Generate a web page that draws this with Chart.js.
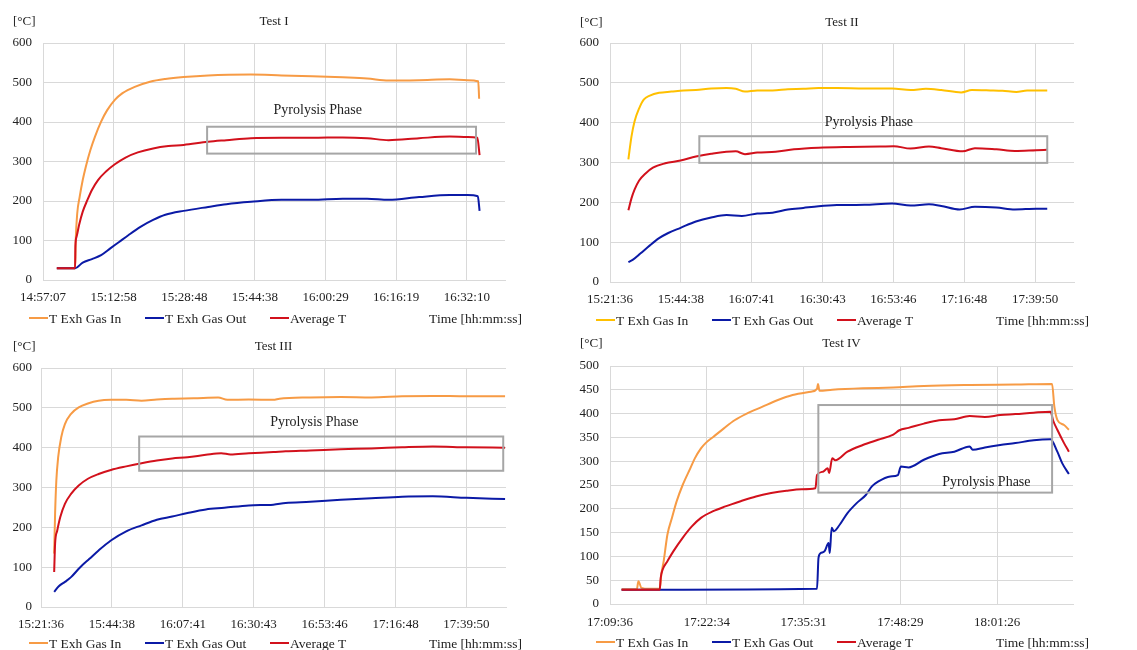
<!DOCTYPE html>
<html>
<head>
<meta charset="utf-8">
<script src="https://cdn.jsdelivr.net/npm/chart.js@4.4.1/dist/chart.umd.min.js"></script>
<style>
  html, body { margin: 0; padding: 0; background: #fff; }
  body { width: 1137px; height: 650px; position: relative; overflow: hidden; }
  canvas { position: absolute; }
</style>
</head>
<body>
<canvas id="test1" width="540" height="332" style="left:0;top:0"></canvas>
<canvas id="test2" width="544" height="332" style="left:567px;top:0"></canvas>
<canvas id="test3" width="542" height="325" style="left:0;top:325px"></canvas>
<canvas id="test4" width="542" height="325" style="left:567px;top:325px"></canvas>
<script>
// x values are minutes after the first tick label of each test

// Test I
const test1Ticks = ['14:57:07', '15:12:58', '15:28:48', '15:44:38', '16:00:29', '16:16:19', '16:32:10'];
const test1InT = [3.1, 7.2, 7.34, 7.68, 8.23, 8.91, 9.6, 10.63, 11.66, 13.03, 14.4, 16.11, 17.83, 20.57, 24.0, 27.43, 31.54, 37.03, 46.63, 53.49, 60.34, 67.2, 72.68, 77.49, 84.34, 91.2, 95.2, 97.6, 97.8];
const test1InV = [30, 30, 101, 169, 211, 253, 287, 329, 363, 401, 430, 456, 473, 489, 502, 509, 514, 518, 520, 518, 516, 513, 510, 505, 506, 508, 506, 503, 459];
const test1OutT = [3.1, 7.2, 8.91, 10.97, 13.03, 15.09, 17.14, 19.2, 21.94, 24.69, 27.43, 31.54, 37.03, 41.14, 46.63, 53.49, 60.34, 67.2, 72.68, 77.49, 84.34, 91.2, 95.2, 97.5, 97.9];
const test1OutV = [30, 30, 44, 53, 63, 80, 97, 114, 135, 152, 165, 175, 185, 192, 198, 203, 203, 206, 206, 203, 210, 215, 215, 212, 175];
const test1AvgT = [3.1, 7.2, 7.27, 7.54, 8.09, 8.91, 9.94, 10.97, 12.34, 14.06, 16.11, 18.51, 21.26, 24.69, 28.11, 31.54, 37.03, 41.14, 46.63, 53.49, 60.34, 67.2, 72.68, 77.49, 84.34, 91.2, 95.2, 97.4, 97.9];
const test1AvgV = [30, 30, 86, 110, 139, 173, 202, 228, 253, 274, 293, 310, 323, 333, 339, 342, 350, 354, 359, 360, 360, 361, 359, 354, 359, 363, 362, 360, 316];

// Test II
const test2Ticks = ['15:21:36', '15:44:38', '16:07:41', '16:30:43', '16:53:46', '17:16:48', '17:39:50'];
const test2InT = [5.98, 6.98, 7.98, 9.48, 10.97, 12.97, 15.96, 19.95, 23.94, 27.93, 32.91, 37.9, 40.89, 43.89, 47.88, 52.86, 57.85, 62.84, 67.82, 73.81, 82.78, 91.76, 97.75, 102.73, 107.72, 114.2, 117.69, 123.68, 127.67, 132.16, 135.65, 138.64, 142.2];
const test2InV = [308, 365, 403, 436, 458, 468, 475, 478, 481, 482, 486, 487, 485, 478, 481, 481, 484, 485, 487, 487, 486, 486, 482, 485, 482, 476, 482, 481, 480, 477, 481, 481, 481];
const test2OutT = [5.98, 7.48, 9.97, 12.97, 15.96, 18.95, 22.94, 27.93, 32.91, 37.9, 42.89, 47.88, 52.86, 57.85, 62.84, 67.82, 73.81, 82.78, 91.76, 97.75, 103.73, 107.72, 113.7, 118.69, 125.67, 131.66, 138.64, 142.2];
const test2OutV = [50, 56, 72, 92, 110, 123, 136, 152, 162, 168, 166, 172, 174, 182, 186, 190, 193, 194, 197, 192, 195, 191, 182, 189, 187, 182, 184, 184];
const test2AvgT = [5.98, 6.98, 7.98, 9.48, 11.47, 13.96, 17.95, 22.94, 27.93, 32.91, 40.89, 43.89, 47.88, 53.86, 59.84, 67.82, 77.8, 87.77, 92.26, 97.75, 103.73, 107.72, 114.7, 118.69, 125.67, 131.66, 138.64, 142.2];
const test2AvgV = [180, 210, 232, 255, 272, 287, 298, 305, 315, 322, 328, 321, 325, 327, 333, 337, 339, 340, 341, 335, 340, 336, 328, 336, 333, 329, 331, 332];

// Test III
const test3Ticks = ['15:21:36', '15:44:38', '16:07:41', '16:30:43', '16:53:46', '17:16:48', '17:39:50'];
const test3InT = [4.28, 4.58, 4.98, 5.58, 6.57, 7.77, 9.76, 12.25, 15.24, 18.72, 22.71, 27.69, 32.67, 37.65, 42.63, 49.6, 57.57, 60.56, 67.53, 75.5, 77.49, 87.45, 97.41, 107.37, 117.33, 127.29, 138.24, 150.8];
const test3InV = [134, 234, 317, 376, 426, 459, 485, 501, 511, 518, 520, 520, 518, 521, 523, 524, 526, 520, 521, 520, 523, 526, 527, 526, 529, 530, 529, 529];
const test3OutT = [4.28, 5.78, 7.77, 9.76, 12.75, 15.74, 18.72, 22.71, 27.69, 32.67, 37.65, 42.63, 47.61, 53.58, 59.56, 67.53, 75.5, 79.48, 87.45, 97.41, 107.37, 117.33, 127.29, 138.24, 150.8];
const test3OutV = [38, 52, 63, 75, 100, 121, 142, 167, 190, 205, 219, 227, 236, 245, 249, 255, 257, 261, 264, 269, 273, 277, 278, 274, 271];
const test3AvgT = [4.28, 4.58, 5.28, 6.27, 7.77, 9.76, 12.25, 15.24, 18.72, 22.71, 27.69, 32.67, 37.65, 42.63, 47.61, 53.58, 58.56, 61.55, 67.53, 75.5, 79.48, 87.45, 97.41, 107.37, 117.33, 127.29, 138.24, 150.8];
const test3AvgV = [88, 159, 192, 226, 259, 284, 305, 322, 334, 344, 353, 361, 368, 373, 376, 382, 386, 383, 386, 389, 391, 393, 396, 398, 401, 403, 401, 400];

// Test IV
const test4Ticks = ['17:09:36', '17:22:34', '17:35:31', '17:48:29', '18:01:26'];
const test4InT = [1.55, 3.6, 3.8, 4.21, 5.23, 6.66, 6.87, 7.19, 7.69, 8.3, 8.91, 9.73, 10.75, 11.36, 12.18, 12.8, 13.82, 15.25, 16.68, 18.31, 20.36, 22.4, 24.45, 26.9, 27.72, 27.85, 28.05, 29.76, 33.85, 37.94, 42.03, 48.16, 54.29, 59.2, 59.5, 59.9, 60.8, 61.45];
const test4InV = [31, 31, 48, 34, 32, 32, 62, 90, 146, 181, 215, 250, 285, 306, 327, 338, 351, 369, 386, 400, 414, 428, 439, 446, 452, 462, 448, 450, 453, 455, 458, 460, 461, 462, 415, 387, 376, 366];
const test4OutT = [1.55, 27.72, 27.92, 28.21, 28.74, 29.27, 29.43, 29.68, 29.97, 30.78, 31.8, 33.03, 34.26, 35.07, 35.89, 37.53, 38.55, 38.96, 39.98, 42.03, 44.07, 46.11, 48.16, 48.57, 50.2, 52.25, 54.29, 56.74, 58.99, 59.9, 60.55, 61.45];
const test4OutV = [30, 32, 97, 107, 111, 128, 107, 160, 153, 167, 191, 212, 229, 247, 257, 268, 271, 289, 287, 303, 315, 320, 331, 324, 329, 334, 338, 344, 346, 320, 296, 273];
const test4AvgT = [1.55, 6.66, 6.79, 7.07, 7.69, 8.5, 9.73, 10.96, 12.18, 13.82, 15.45, 17.5, 19.54, 21.58, 23.63, 25.67, 27.51, 27.72, 28.53, 29.15, 29.35, 29.76, 30.17, 31.8, 33.85, 35.89, 37.94, 38.75, 39.98, 42.03, 44.07, 46.11, 48.16, 50.2, 52.25, 54.29, 56.74, 58.99, 59.35, 59.9, 60.8, 61.45];
const test4AvgV = [30, 30, 55, 73, 90, 111, 139, 163, 181, 195, 205, 216, 226, 233, 238, 241, 243, 271, 278, 285, 275, 306, 302, 320, 334, 345, 356, 365, 370, 379, 386, 388, 395, 393, 397, 399, 402, 404, 385, 366, 338, 320];

// pyrolysis phase frames, in data units: [from, to, low, high] and label [x, y]
const test1Pyro = [36.8, 97.1, 320, 388], test1PyroLabel = [61.6, 430];
const test2Pyro = [29.05, 142.2, 299, 366], test2PyroLabel = [84.2, 402];
const test3Pyro = [31.9, 150.2, 342, 428], test3PyroLabel = [88.8, 464];
const test4Pyro = [27.9, 59.2, 234, 418], test4PyroLabel = [50.4, 255];

const orange = '#F79B45';
const gold = '#FFC000';
const blue = '#0B1AA6';
const red = '#D2111C';
const gridColor = '#D9D9D9';
const textColor = '#222';
const serif = '"Liberation Serif", "Times New Roman", serif';

Chart.defaults.font.family = serif;
Chart.defaults.font.size = 13;
Chart.defaults.color = textColor;

const pts = (t, v) => t.map((x, i) => ({ x, y: v[i] }));

// box + caption for the pyrolysis phase, legend row, unit label
function extras(box, label, titleY, legendY) {
  return {
    id: 'extras',
    afterDatasetsDraw(chart) {
      const { ctx, scales: { x, y } } = chart;
      const x0 = x.getPixelForValue(box[0]), x1 = x.getPixelForValue(box[1]);
      const y0 = y.getPixelForValue(box[3]), y1 = y.getPixelForValue(box[2]);
      ctx.save();
      ctx.strokeStyle = '#A6A6A6';
      ctx.lineWidth = 2;
      ctx.strokeRect(x0, y0, x1 - x0, y1 - y0);
      ctx.font = '14px ' + serif;
      ctx.fillStyle = textColor;
      ctx.textAlign = 'center';
      ctx.textBaseline = 'middle';
      ctx.fillText('Pyrolysis Phase', x.getPixelForValue(label[0]), y.getPixelForValue(label[1]));
      ctx.restore();
    },
    afterDraw(chart) {
      const ctx = chart.ctx;
      const legendX = [29, 145, 270];
      ctx.save();
      ctx.font = '13.5px ' + serif;
      ctx.fillStyle = textColor;
      ctx.textBaseline = 'middle';
      chart.data.datasets.forEach((ds, i) => {
        ctx.strokeStyle = ds.borderColor;
        ctx.lineWidth = 2;
        ctx.beginPath();
        ctx.moveTo(legendX[i], legendY);
        ctx.lineTo(legendX[i] + 19, legendY);
        ctx.stroke();
        ctx.textAlign = 'left';
        ctx.fillText(ds.label, legendX[i] + 20, legendY + 1);
      });
      ctx.textAlign = 'right';
      ctx.fillText('Time [hh:mm:ss]', 522, legendY + 1);
      ctx.font = '13px ' + serif;
      ctx.textAlign = 'left';
      ctx.fillText('[°C]', 13, titleY);
      ctx.restore();
    }
  };
}

function build(id, p) {
  return new Chart(document.getElementById(id), {
    type: 'line',
    data: {
      datasets: [
        { label: 'T Exh Gas In', data: pts(p.inT, p.inV), borderColor: p.inColor, order: 3 },
        { label: 'T Exh Gas Out', data: pts(p.outT, p.outV), borderColor: blue, order: 2 },
        { label: 'Average T', data: pts(p.avgT, p.avgV), borderColor: red, order: 1 }
      ]
    },
    options: {
      responsive: false,
      animation: false,
      parsing: false,
      elements: {
        line: { borderWidth: 2, cubicInterpolationMode: 'monotone' },
        point: { radius: 0 }
      },
      layout: { padding: { left: p.padLeft, right: p.padRight, top: 0, bottom: p.padBottom } },
      plugins: {
        legend: { display: false },
        tooltip: { enabled: false },
        title: {
          display: true,
          text: p.title,
          fullSize: false,
          color: textColor,
          font: { size: 13, weight: 'normal' },
          padding: { top: p.titleTop, bottom: p.titleBottom }
        }
      },
      scales: {
        x: {
          type: 'linear',
          min: 0,
          max: p.xMax,
          border: { color: gridColor },
          grid: { color: gridColor, drawTicks: false },
          ticks: {
            stepSize: p.xStep,
            includeBounds: false,
            autoSkip: false,
            maxRotation: 0,
            padding: p.xPad,
            callback: (v, i) => p.ticks[i]
          }
        },
        y: {
          min: 0,
          max: p.yMax,
          border: { color: gridColor },
          grid: { color: gridColor, drawTicks: false },
          ticks: { stepSize: p.yStep, padding: p.yPad }
        }
      }
    },
    plugins: [extras(p.box, p.label, p.titleY, p.legendY)]
  });
}

build('test1', {
  title: 'Test I', ticks: test1Ticks, inColor: orange,
  inT: test1InT, inV: test1InV, outT: test1OutT, outV: test1OutV, avgT: test1AvgT, avgV: test1AvgV,
  box: test1Pyro, label: test1PyroLabel,
  xMax: 103.6, xStep: 15.84, yMax: 600, yStep: 100,
  padLeft: 1.5, padRight: 35, padBottom: 16.4, titleTop: 14, titleBottom: 13.4, xPad: 10, yPad: 11,
  titleY: 22, legendY: 318
});

build('test2', {
  title: 'Test II', ticks: test2Ticks, inColor: gold,
  inT: test2InT, inV: test2InV, outT: test2OutT, outV: test2OutV, avgT: test2AvgT, avgV: test2AvgV,
  box: test2Pyro, label: test2PyroLabel,
  xMax: 150.9, xStep: 23.04, yMax: 600, yStep: 100,
  padLeft: 1.5, padRight: 37, padBottom: 14.4, titleTop: 15, titleBottom: 12.4, xPad: 10, yPad: 11,
  titleY: 23, legendY: 320
});

build('test3', {
  title: 'Test III', ticks: test3Ticks, inColor: orange,
  inT: test3InT, inV: test3InV, outT: test3OutT, outV: test3OutV, avgT: test3AvgT, avgV: test3AvgV,
  box: test3Pyro, label: test3PyroLabel,
  xMax: 151.1, xStep: 23.04, yMax: 600, yStep: 100,
  padLeft: 3.5, padRight: 36, padBottom: 7.4, titleTop: 14, titleBottom: 13.4, xPad: 10, yPad: 9,
  titleY: 22, legendY: 318
});

build('test4', {
  title: 'Test IV', ticks: test4Ticks, inColor: orange,
  inT: test4InT, inV: test4InV, outT: test4OutT, outV: test4OutV, avgT: test4AvgT, avgV: test4AvgV,
  box: test4Pyro, label: test4PyroLabel,
  xMax: 62.0, xStep: 12.96, yMax: 500, yStep: 50,
  padLeft: 1.5, padRight: 36, padBottom: 8.4, titleTop: 11, titleBottom: 14.4, xPad: 11, yPad: 11,
  titleY: 19, legendY: 317
});
</script>
</body>
</html>
